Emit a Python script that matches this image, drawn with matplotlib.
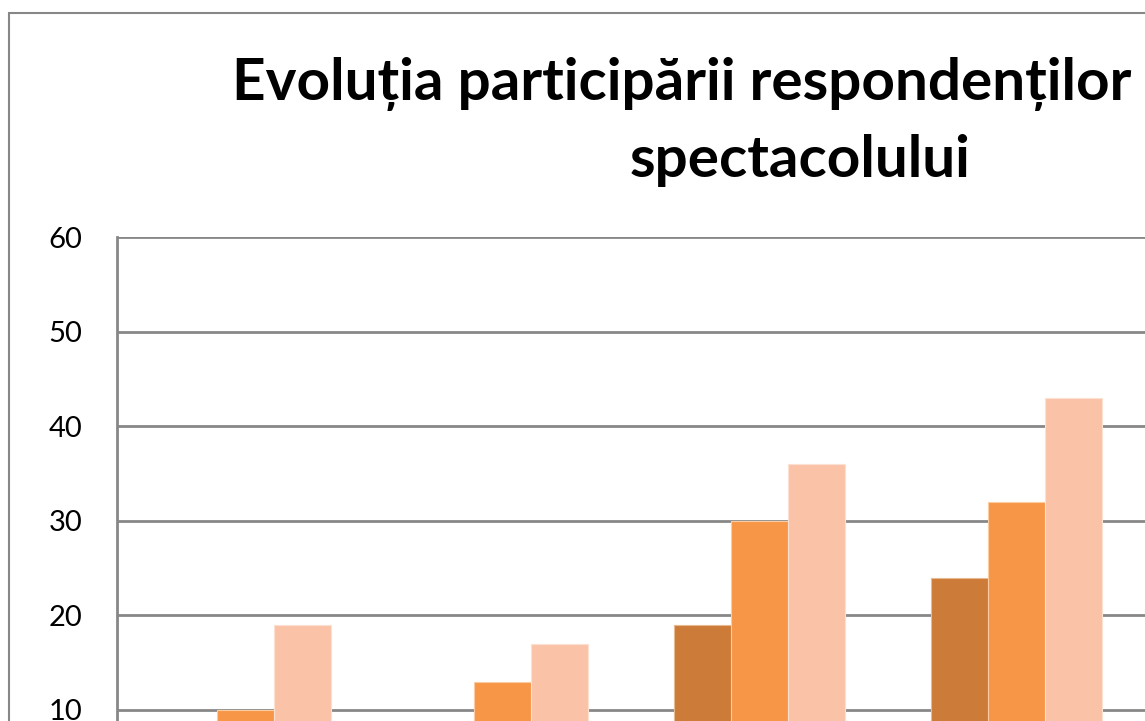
import matplotlib
matplotlib.use("Agg")
import matplotlib.pyplot as plt
import numpy as np
from matplotlib.patches import Rectangle

# data (first series of groups 1-2 is below 10, not visible)
categories = ["1", "2", "3", "4"]
serie_1 = [5, 7, 19, 24]
serie_2 = [10, 13, 30, 32]
serie_3 = [19, 17, 36, 43]
yticks = [0, 10, 20, 30, 40, 50, 60]

title_1 = "Evoluția participării respondenților"
title_2 = "spectacolului"

colors = ["#CD7B38", "#F79646", "#FAC3A8"]
edges = ["#E9B98F", "#FBCBA2", "#FCE1D3"]
grid_col = "#878787"

W, H = 1145, 721
fig = plt.figure(figsize=(W / 100, H / 100), dpi=100)
fonts = ["Lato", "DejaVu Sans"]

# chart border (goes out of the picture on the right and bottom)
fig.patches.append(Rectangle((9 / W, -1), 2, 1 - 13 / H + 1, transform=fig.transFigure,
                             fill=False, edgecolor=grid_col, linewidth=1.5))

# plot area: 5 slots of 257 px, bottom (y=0) below the picture edge
left_px, top_px, slot_px, ten_px = 117, 237, 257, 94.6
n_slots = 5
ax = fig.add_axes([left_px / W, (H - (top_px + 6 * ten_px)) / H,
                   slot_px * n_slots / W, 6 * ten_px / H])

x = np.arange(len(categories))
bw = 0.222
for i, (vals, c, e) in enumerate(zip([serie_1, serie_2, serie_3], colors, edges)):
    ax.bar(x + (i - 1) * bw, vals, width=bw, color=c, edgecolor=e, linewidth=0.8, zorder=3)

ax.set_xlim(-0.5, n_slots - 0.5)
ax.set_ylim(0, 60)
ax.set_yticks(yticks)
ax.set_yticklabels([str(v) for v in yticks], fontsize=21, family=fonts)
ax.set_xticks([])
ax.tick_params(axis="y", length=0, pad=25)
ax.yaxis.grid(True, color=grid_col, linewidth=2.0, zorder=1)
for s in ["top", "right", "bottom"]:
    ax.spines[s].set_visible(False)
ax.spines["left"].set_color(grid_col)
ax.spines["left"].set_linewidth(2.0)

fig.text(232 / W, 1 - 100 / H, title_1, ha="left", va="baseline",
         fontsize=42, fontweight="bold", family=fonts)
fig.text(800 / W, 1 - 177 / H, title_2, ha="center", va="baseline",
         fontsize=42, fontweight="bold", family=fonts)

fig.savefig("out.png", dpi=100)
